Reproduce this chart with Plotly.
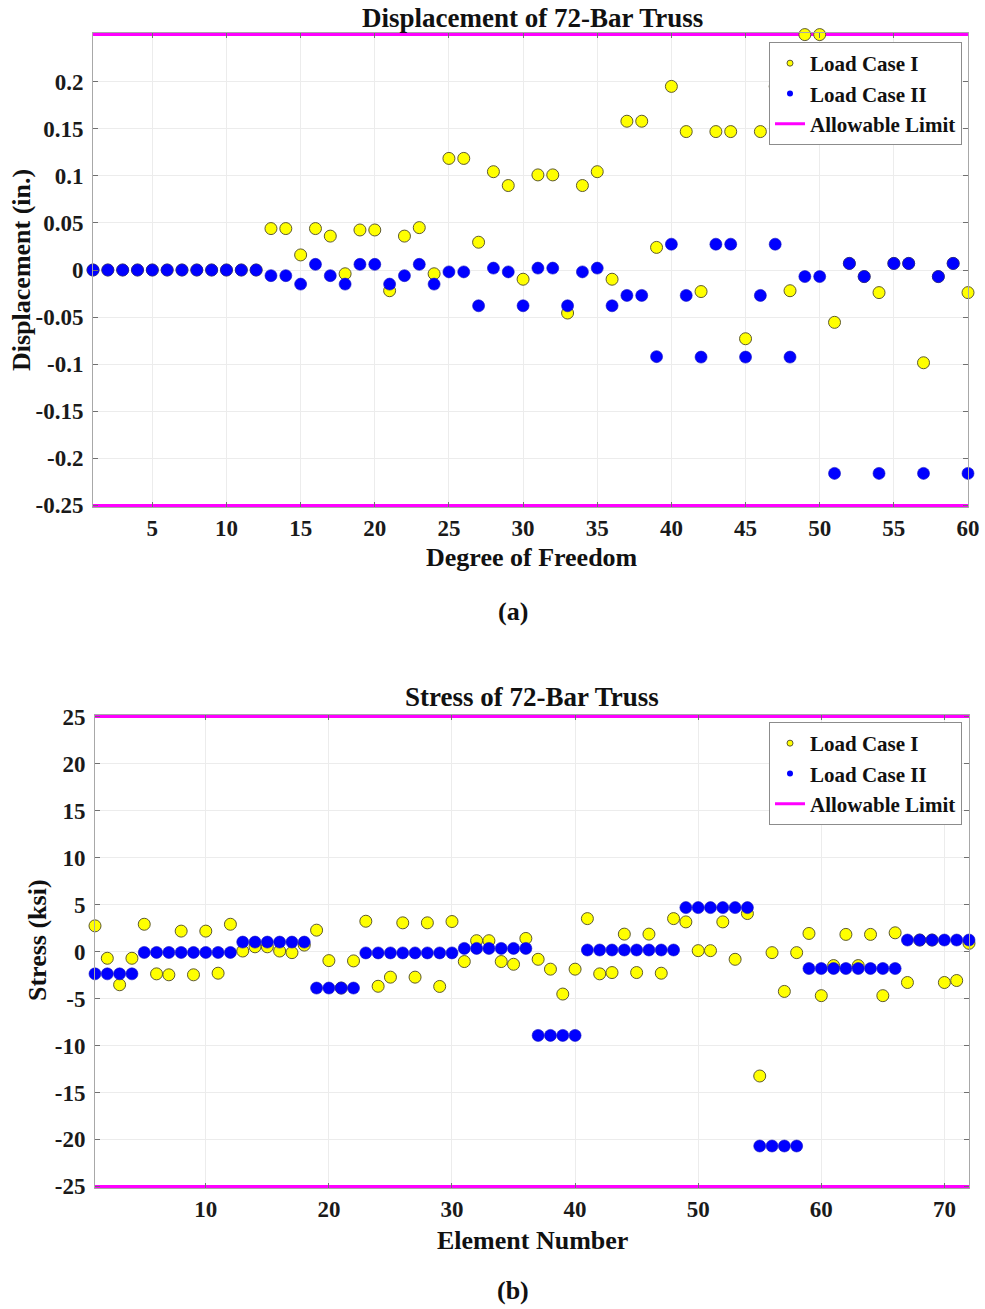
import plotly.graph_objects as go

# ---------------- data ----------------
dof = list(range(1, 61))
disp_case1 = [0]*12 + [
    0.044, 0.044, 0.016, 0.044, 0.036, -0.004, 0.0425, 0.0425, -0.022, 0.036,
    0.045, -0.004, 0.1185, 0.1185, 0.0295, 0.1044, 0.0897, -0.0098, 0.101, 0.101,
    -0.0457, 0.0897, 0.1044, -0.0098, 0.158, 0.158, 0.024, 0.195, 0.147, -0.0229,
    0.147, 0.147, -0.073, 0.147, 0.195, -0.022, 0.25, 0.25, -0.0556, 0.007,
    -0.007, -0.024, 0.007, 0.007, -0.0985, -0.007, 0.007, -0.024]
disp_case2 = [0]*12 + [
    -0.006, -0.006, -0.015, 0.006, -0.006, -0.015, 0.006, 0.006, -0.015, -0.006,
    0.006, -0.015, -0.002, -0.002, -0.038, 0.002, -0.002, -0.038, 0.002, 0.002,
    -0.038, -0.002, 0.002, -0.038, -0.027, -0.027, -0.092, 0.0274, -0.027, -0.0925,
    0.0274, 0.0274, -0.0925, -0.027, 0.0274, -0.0925, -0.007, -0.007, -0.216, 0.007,
    -0.007, -0.216, 0.007, 0.007, -0.216, -0.007, 0.007, -0.216]
disp_limit = 0.25

elem = list(range(1, 73))
stress_case1 = [
    2.73, -0.72, -3.54, -0.72, 2.9, -2.38, -2.48, 2.17, -2.48, 2.17,
    -2.31, 2.9, 0.05, 0.5, 0.5, 0.05, -0.12, 0.68, 2.27, -0.97,
    -3.89, -1.0, 3.22, -3.7, -2.73, 3.05, -2.73, 3.05, -3.72, 3.19,
    -1.07, 1.15, 1.15, -1.07, -1.36, 1.39, -0.83, -1.88, -4.53, -1.88,
    3.5, -2.38, -2.24, 1.85, -2.24, 1.85, -2.31, 3.5, 3.15, 0.09,
    0.09, 3.15, -0.83, 4.04, -13.25, -0.12, -4.25, -0.12, 1.92, -4.7,
    -1.5, 1.82, -1.5, 1.82, -4.7, 1.99, -3.3, 1.22, 1.22, -3.3,
    -3.09, 0.87]
stress_case2 = ([-2.38]*4 + [-0.1]*8 + [1.0]*6 + [-3.89]*4 + [-0.15]*8 +
                [0.33]*6 + [-8.93]*4 + [0.16]*8 + [4.67]*6 + [-20.7]*4 +
                [-1.81]*8 + [1.22]*6)
stress_limit = 25

disp_ticks_x = [5, 10, 15, 20, 25, 30, 35, 40, 45, 50, 55, 60]
disp_ticks_y = [-0.25, -0.2, -0.15, -0.1, -0.05, 0, 0.05, 0.1, 0.15, 0.2]
disp_tick_text_y = ["-0.25", "-0.2", "-0.15", "-0.1", "-0.05", "0", "0.05", "0.1", "0.15", "0.2"]
stress_ticks_x = [10, 20, 30, 40, 50, 60, 70]
stress_ticks_y = [-25, -20, -15, -10, -5, 0, 5, 10, 15, 20, 25]
stress_tick_text_y = ["-25", "-20", "-15", "-10", "-5", "0", "5", "10", "15", "20", "25"]

# ---------------- styling ----------------
W, H = 985, 1309
FONT = "Liberation Serif, Times New Roman, serif"
YEL = "#FFFF00"
BLU = "#0000FF"
MAG = "#FF00FF"

def px_x(p):
    return p / W

def px_y(p):
    return 1 - p / H

fig = go.Figure()

def add_panel(x, y1, y2, lim, xa, ya, legend):
    fig.add_trace(go.Scatter(
        x=[x[0], x[-1], None, x[0], x[-1]], y=[lim, lim, None, -lim, -lim],
        mode="lines", line=dict(color=MAG, width=3), showlegend=False,
        xaxis=xa, yaxis=ya, hoverinfo="skip"))
    fig.add_trace(go.Scatter(
        x=x, y=y1, mode="markers", cliponaxis=False, showlegend=False,
        marker=dict(size=12, color=YEL, line=dict(color="#5e5a30", width=1)),
        xaxis=xa, yaxis=ya))
    fig.add_trace(go.Scatter(
        x=x, y=y2, mode="markers", cliponaxis=False, showlegend=False,
        marker=dict(size=12, color=BLU, line=dict(color="#1010c0", width=0.6)),
        xaxis=xa, yaxis=ya))
    # legend entries
    fig.add_trace(go.Scatter(x=[None], y=[None], mode="markers", name="Load Case I",
        marker=dict(size=6, color=YEL, line=dict(color="#5e5a30", width=1)),
        xaxis=xa, yaxis=ya, legend=legend))
    fig.add_trace(go.Scatter(x=[None], y=[None], mode="markers", name="Load Case II",
        marker=dict(size=6, color=BLU), xaxis=xa, yaxis=ya, legend=legend))
    fig.add_trace(go.Scatter(x=[None], y=[None], mode="lines", name="Allowable Limit",
        line=dict(color=MAG, width=3), xaxis=xa, yaxis=ya, legend=legend))

add_panel(dof, disp_case1, disp_case2, disp_limit, "x", "y", "legend")
add_panel(elem, stress_case1, stress_case2, stress_limit, "x2", "y2", "legend2")

tickfont = dict(family=FONT, size=23, color="#1a1a1a", weight="bold")
axis_common = dict(
    automargin=False, ticklabeloverflow="allow",
    showgrid=True, gridcolor="#ececec", gridwidth=1,
    showline=True, linecolor="#a8a8a8", linewidth=1, mirror="ticks",
    ticks="inside", ticklen=5, tickcolor="#707070", tickwidth=1,
    zeroline=False, tickfont=tickfont,
)

legend_common = dict(
    bgcolor="white", bordercolor="#8c8c8c", borderwidth=1,
    font=dict(family=FONT, size=21, color="#111111", weight="bold"),
    xanchor="right", yanchor="top", itemwidth=30, tracegroupgap=0,
)

fig.update_layout(
    width=W, height=H,
    margin=dict(l=0, r=0, t=0, b=0, autoexpand=False),
    paper_bgcolor="white", plot_bgcolor="white",
    showlegend=True,
    xaxis=dict(domain=[px_x(93), px_x(968)], range=[1, 60], tickvals=disp_ticks_x,
               anchor="y", **axis_common),
    yaxis=dict(domain=[px_y(507), px_y(33)], range=[-0.2517, 0.2517],
               tickvals=disp_ticks_y, ticktext=disp_tick_text_y, anchor="x",
               ticklabelstandoff=4, **axis_common),
    xaxis2=dict(domain=[px_x(95), px_x(969)], range=[1, 72], tickvals=stress_ticks_x,
                anchor="y2", **axis_common),
    yaxis2=dict(domain=[px_y(1188), px_y(715)], range=[-25.17, 25.17],
                tickvals=stress_ticks_y, ticktext=stress_tick_text_y, anchor="x2",
                ticklabelstandoff=4, **axis_common),
    legend=dict(x=px_x(962), y=px_y(42), **legend_common),
    legend2=dict(x=px_x(962), y=px_y(722), **legend_common),
)

def ann(text, xp, yp, size, angle=0, xanchor="center", yanchor="middle"):
    fig.add_annotation(text=text, x=px_x(xp), y=px_y(yp), xref="paper", yref="paper",
                       showarrow=False, textangle=angle, xanchor=xanchor, yanchor=yanchor,
                       font=dict(family=FONT, size=size, color="#111111", weight="bold"))

ann("Displacement of 72-Bar Truss", 532, 18, 27)
ann("Degree of Freedom", 532, 557, 26)
ann("Displacement (in.)", 21, 270, 26, -90)
ann("(a)", 513, 612, 26)
ann("Stress of 72-Bar Truss", 532, 697, 27)
ann("Element Number", 532, 1240, 26)
ann("Stress (ksi)", 38, 940, 26, -90)
ann("(b)", 513, 1290, 26)

fig.write_html(
    "out.html",
    config={"displayModeBar": False},
    post_script="document.body.style.margin='0';document.body.style.overflow='hidden';",
)
